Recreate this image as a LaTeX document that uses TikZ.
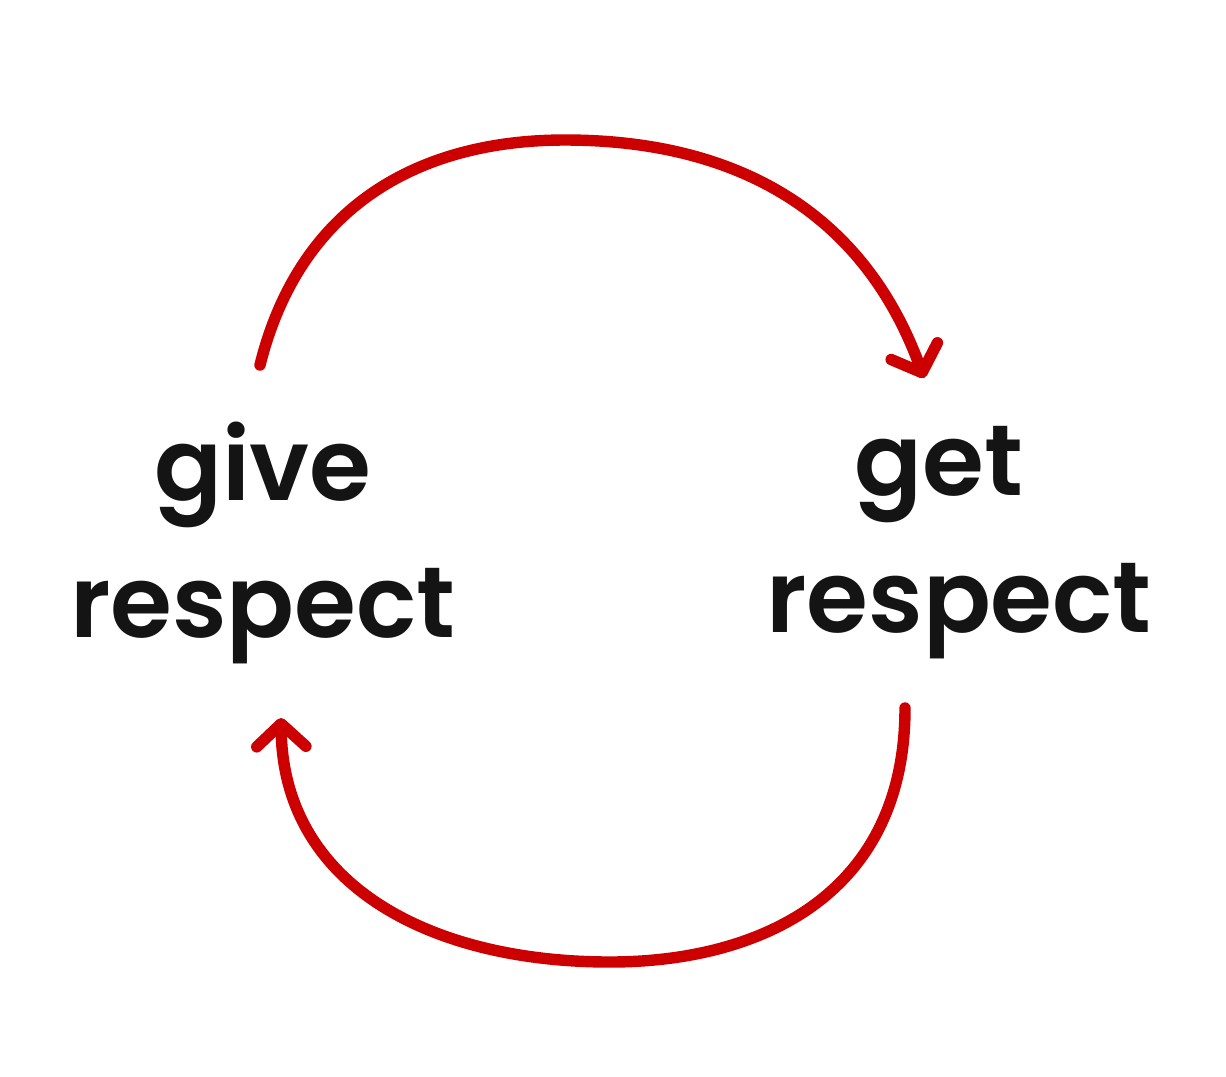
\documentclass[tikz,border=0pt]{standalone}
\usepackage{fontspec}
\newfontfamily\handfont{Poppins SemiBold}
\usetikzlibrary{arrows.meta}
\definecolor{arrowred}{RGB}{204,0,0}
\definecolor{inkblack}{RGB}{20,20,20}
\tikzset{
  label text/.style={text=inkblack, align=center, font=\handfont\fontsize{57}{78}\selectfont, inner sep=0pt},
  loop arrow/.style={draw=arrowred, line width=6.5pt, line cap=round, line join=round,
    -{Straight Barb[length=13pt, width=28pt, line width=6.5pt, round]}}
}
\begin{document}
\begin{tikzpicture}[x=0.02cm, y=-0.02cm]
\useasboundingbox (0,0) rectangle (1226,1076);
\fill[white] (0,0) rectangle (1226,1076);
\node[label text] (give) at (263,543) {give\\respect};
\node[label text] (get) at (959,543) {get\kern0.4em\\respect};
\coordinate (gs) at (260,365);
\coordinate (ge) at (924,378);
\coordinate (bs) at (905,708);
\coordinate (be) at (281,718);
\draw[loop arrow] (gs) .. controls (300,205) and (420,140) .. (565,140)
  .. controls (740,140) and (865,215) .. (ge);
\draw[loop arrow] (bs) .. controls (905,895) and (760,962) .. (610,962)
  .. controls (430,962) and (283,885) .. (be);
\end{tikzpicture}
\end{document}
